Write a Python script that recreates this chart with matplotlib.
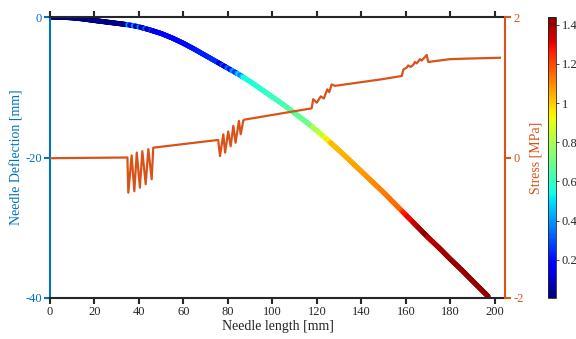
import numpy as np
import matplotlib
matplotlib.use("Agg")
import matplotlib.pyplot as plt
from matplotlib.collections import LineCollection
from matplotlib.colors import Normalize

plt.rcParams['font.family'] = ['Liberation Serif', 'DejaVu Serif']
plt.rcParams['axes.unicode_minus'] = False

# ---------------- data ----------------
# needle deflection [mm] vs needle length [mm]
defl_x = [0, 5, 10, 15, 20, 25, 30, 35, 40, 45, 50, 55, 60, 65, 70, 75, 80, 85, 90, 95,
          100, 105, 110, 115, 120, 125, 130, 135, 140, 145, 150, 155, 160, 165, 170, 175,
          180, 185, 190, 197]
defl_y = [0, -0.03, -0.12, -0.28, -0.5, -0.7, -0.9, -1.1, -1.4, -1.85, -2.35, -3.0, -3.75,
          -4.6, -5.5, -6.4, -7.3, -8.2, -9.2, -10.3, -11.4, -12.5, -13.7, -14.9, -16.2,
          -17.6, -19.0, -20.5, -22.0, -23.5, -25.0, -26.6, -28.2, -29.8, -31.4, -32.9,
          -34.5, -36.0, -37.6, -39.8]

# stress [MPa] vs needle length [mm]
stress_x = [0, 34.8, 35.2, 36.7, 37.9, 39.0, 40.4, 41.5, 43.0, 44.2, 45.7, 46.4,
            75.6, 76.4, 77.9, 78.7, 80.1, 81.2, 82.4, 83.4, 84.9, 85.7, 86.9, 87.6,
            117.6, 118.3, 119.9, 121.7, 123.1, 124.6, 125.5, 126.6, 128.1,
            143.8, 148.3, 158.1, 158.8, 160.3, 161.0, 162.1, 163.3, 164.0, 164.8,
            166.3, 167.0, 168.5, 169.3, 170.0, 179.8, 190.0, 202.2]
stress_y = [-0.01, 0.0, -0.50, 0.03, -0.48, 0.07, -0.43, 0.09, -0.38, 0.12, -0.31, 0.14,
            0.25, 0.02, 0.33, 0.07, 0.37, 0.16, 0.45, 0.21, 0.52, 0.33, 0.53, 0.54,
            0.70, 0.83, 0.78, 0.87, 0.84, 0.97, 0.93, 1.04, 1.02,
            1.09, 1.11, 1.16, 1.25, 1.28, 1.31, 1.29, 1.32, 1.36, 1.34,
            1.40, 1.38, 1.43, 1.46, 1.36, 1.40, 1.41, 1.42]

cbar_ticks = [0.2, 0.4, 0.6, 0.8, 1.0, 1.2, 1.4]
cbar_labels = ['0.2', '0.4', '0.6', '0.8', '1', '1.2', '1.4']
x_ticks = list(range(0, 201, 20))

BLUE = '#0072BD'
ORANGE = '#D95319'
DARK = '#262626'

# ---------------- figure ----------------
fig = plt.figure(figsize=(5.76, 3.39), dpi=100)
ax = fig.add_axes([50/576, 41/339, 455/576, 281/339])
ax2 = ax.twinx()
cax = fig.add_axes([548/576, 41/339, 8/576, 281/339])

# deflection line coloured by |stress|
xf = np.linspace(defl_x[0], defl_x[-1], 900)
yf = np.interp(xf, defl_x, defl_y)
pts = np.column_stack([xf, yf]).reshape(-1, 1, 2)
segs = np.concatenate([pts[:-1], pts[1:]], axis=1)
xm = 0.5 * (xf[:-1] + xf[1:])
cval = np.abs(np.interp(xm, stress_x, stress_y))
norm = Normalize(vmin=0.005, vmax=1.44)
lc = LineCollection(segs, cmap='jet', norm=norm, linewidths=3.6,
                    capstyle='round', joinstyle='round')
lc.set_array(cval)
ax.add_collection(lc)

ax.set_xlim(0, 204.5)
ax.set_ylim(-40, 0)
ax.set_xticks(x_ticks)
ax.set_yticks([-40, -20, 0])

ax2.plot(stress_x, stress_y, color=ORANGE, lw=1.6, zorder=3)
ax2.set_ylim(-2, 2)
ax2.set_yticks([-2, 0, 2])

# styling
for a in (ax, ax2):
    for s in a.spines.values():
        s.set_linewidth(1.5)
ax.spines['left'].set_color(BLUE)
ax.spines['bottom'].set_color(DARK)
ax.spines['top'].set_color(DARK)
ax.spines['right'].set_visible(False)
ax2.spines['left'].set_visible(False)
ax2.spines['top'].set_visible(False)
ax2.spines['bottom'].set_visible(False)
ax2.spines['right'].set_color(ORANGE)

ax.tick_params(axis='x', direction='out', top=True, bottom=True, length=4, width=1.5,
               colors=DARK, labelsize=9, pad=2)
ax.tick_params(axis='y', direction='out', length=4, width=1.5, colors=BLUE, labelsize=9, pad=2)
ax2.tick_params(axis='y', direction='out', length=4, width=1.5, colors=ORANGE, labelsize=9, pad=2)

ax.set_xlabel('Needle length [mm]', fontsize=10, color=DARK, labelpad=1)
ax.set_ylabel('Needle Deflection [mm]', fontsize=10, color=BLUE, labelpad=1)
ax2.set_ylabel('Stress [MPa]', fontsize=10, color=ORANGE, labelpad=4)

cb = fig.colorbar(lc, cax=cax, ticks=cbar_ticks)
cb.ax.set_yticklabels(cbar_labels)
cb.ax.tick_params(labelsize=9, colors=DARK, length=2, width=0.6, pad=2)
cb.outline.set_linewidth(0.6)
cb.outline.set_edgecolor(DARK)

fig.savefig('out.png', dpi=100)
